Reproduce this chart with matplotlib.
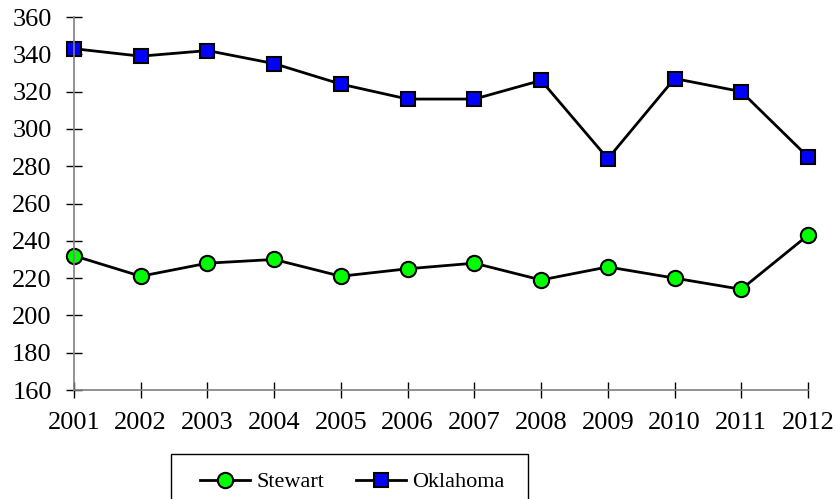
import matplotlib.pyplot as plt
from matplotlib.lines import Line2D
from matplotlib.patches import Rectangle

# data
years = [2001, 2002, 2003, 2004, 2005, 2006, 2007, 2008, 2009, 2010, 2011, 2012]
stewart = [232, 221, 228, 230, 221, 225, 228, 219, 226, 220, 214, 243]
oklahoma = [343, 339, 342, 335, 324, 316, 316, 326, 284, 327, 320, 285]

plt.rcParams['font.family'] = ['Liberation Serif', 'DejaVu Serif']

W, H = 837, 499
fig = plt.figure(figsize=(W / 100, H / 100), dpi=100)
ax = fig.add_axes([74/W, 1 - 390/H, (808 - 74)/W, (390 - 17)/H])

ax.plot(years, stewart, color='black', lw=2, marker='o', ms=11,
        mfc='#00ff00', mec='black', mew=1.5, label='Stewart', clip_on=False)
ax.plot(years, oklahoma, color='black', lw=2, marker='s', ms=10,
        mfc='#0000ff', mec='black', mew=1.5, label='Oklahoma', clip_on=False)

ax.set_xlim(2001, 2012)
ax.set_ylim(160, 360)
ax.set_xticks(years)
ax.set_yticks(range(160, 361, 20))

for s in ['top', 'right']:
    ax.spines[s].set_visible(False)
for s in ['left', 'bottom']:
    ax.spines[s].set_color('#808080')
    ax.spines[s].set_linewidth(1.2)

ax.tick_params(direction='inout', length=12, width=1, color='black',
               labelsize=19)
ax.tick_params(axis='y', pad=10)
ax.tick_params(axis='x', pad=10)

# legend box (runs off the bottom edge like the original)
fig.patches.append(Rectangle((171/W, -0.05), (528 - 171)/W, 1 - 454/H + 0.05,
                             transform=fig.transFigure, fill=False,
                             edgecolor='black', lw=1.0))

handles = [
    Line2D([], [], color='black', lw=2, marker='o', ms=11, mfc='#00ff00', mec='black', mew=1.5),
    Line2D([], [], color='black', lw=2, marker='s', ms=10, mfc='#0000ff', mec='black', mew=1.5),
]
fig.legend(handles, ['Stewart', 'Oklahoma'], loc='center left',
           bbox_to_anchor=(200/W, 1 - 482/H), ncol=2, fontsize=16,
           frameon=False, borderpad=0, handlelength=2.25, handletextpad=0.3,
           columnspacing=1.4, borderaxespad=0)

fig.savefig('out.png', dpi=100)
